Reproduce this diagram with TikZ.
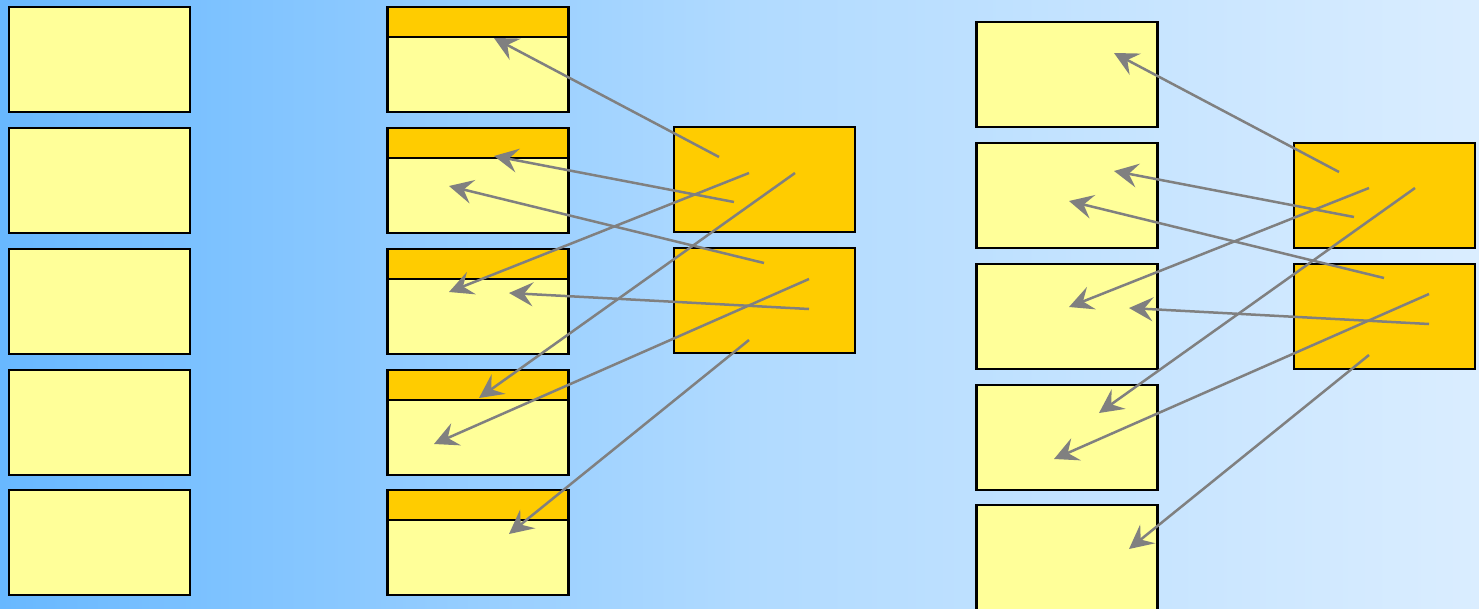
\documentclass[tikz,border=0pt]{standalone}
\usetikzlibrary{arrows.meta}
\definecolor{lightyel}{HTML}{FFFF99}
\definecolor{gold}{HTML}{FFCC00}
\definecolor{bgL}{HTML}{68B8FF}
\definecolor{bgM}{HTML}{B0DAFF}
\definecolor{bgR}{HTML}{DAEDFF}
\tikzset{
  ybox/.style={draw=black,line width=2.9pt,fill=lightyel,inner sep=0pt,outer sep=0pt,
    minimum width=181pt,minimum height=105pt,anchor=north west},
  obox/.style={ybox,fill=gold},
  band/.style={draw=black,line width=2.9pt,fill=gold,inner sep=0pt,outer sep=0pt,
    minimum width=181pt,minimum height=30pt,anchor=north west},
  ptr/.style={draw={rgb,255:red,128;green,128;blue,128},line width=2.5pt,
    -{Stealth[length=24pt,width=24pt,inset=9pt]}}
}
\begin{document}
\begin{tikzpicture}[x=1pt,y=-1pt]
\useasboundingbox (0,0) rectangle (1479,608);
\shade[left color=bgL,right color=bgM] (0,0) rectangle (740,608);
\shade[left color=bgM,right color=bgR] (740,0) rectangle (1479,608);
% left column
\foreach \i/\y in {1/7,2/128,3/249,4/370,5/490}{
  \node[ybox] (L\i) at (9,\y) {};
}
% middle column with header bands
\foreach \i/\y in {1/7,2/128,3/249,4/370,5/490}{
  \node[ybox] (M\i) at (387.5,\y) {};
  \node[band] (H\i) at (387.5,\y) {};
}
% middle orange boxes
\node[obox] (O1) at (674,127) {};
\node[obox] (O2) at (674,248) {};
% right column
\foreach \i/\y in {1/22,2/143,3/264,4/385,5/505}{
  \node[ybox] (R\i) at (976.5,\y) {};
}
\node[obox] (P1) at (1294,143) {};
\node[obox] (P2) at (1294,264) {};
% arrow endpoints, middle
\coordinate (ms1) at (719,157); \coordinate (me1) at (494,38);
\coordinate (ms2) at (734,202); \coordinate (me2) at (494,156);
\coordinate (ms3) at (764,263); \coordinate (me3) at (449,186);
\coordinate (ms4) at (749,173); \coordinate (me4) at (449,292);
\coordinate (ms5) at (809,309); \coordinate (me5) at (509,293);
\coordinate (ms6) at (795,173); \coordinate (me6) at (479,398);
\coordinate (ms7) at (809,279); \coordinate (me7) at (434,444);
\coordinate (ms8) at (749,340); \coordinate (me8) at (509,534);
% arrow endpoints, right
\coordinate (rs1) at (1339,172); \coordinate (re1) at (1114,53);
\coordinate (rs2) at (1354,217); \coordinate (re2) at (1114,171);
\coordinate (rs3) at (1384,278); \coordinate (re3) at (1069,201);
\coordinate (rs4) at (1369,188); \coordinate (re4) at (1069,307);
\coordinate (rs5) at (1429,324); \coordinate (re5) at (1129,308);
\coordinate (rs6) at (1415,188); \coordinate (re6) at (1099,413);
\coordinate (rs7) at (1429,294); \coordinate (re7) at (1054,459);
\coordinate (rs8) at (1369,355); \coordinate (re8) at (1129,549);
\foreach \k in {1,...,8}{
  \draw[ptr] (ms\k) -- (me\k);
  \draw[ptr] (rs\k) -- (re\k);
}
\end{tikzpicture}
\end{document}
